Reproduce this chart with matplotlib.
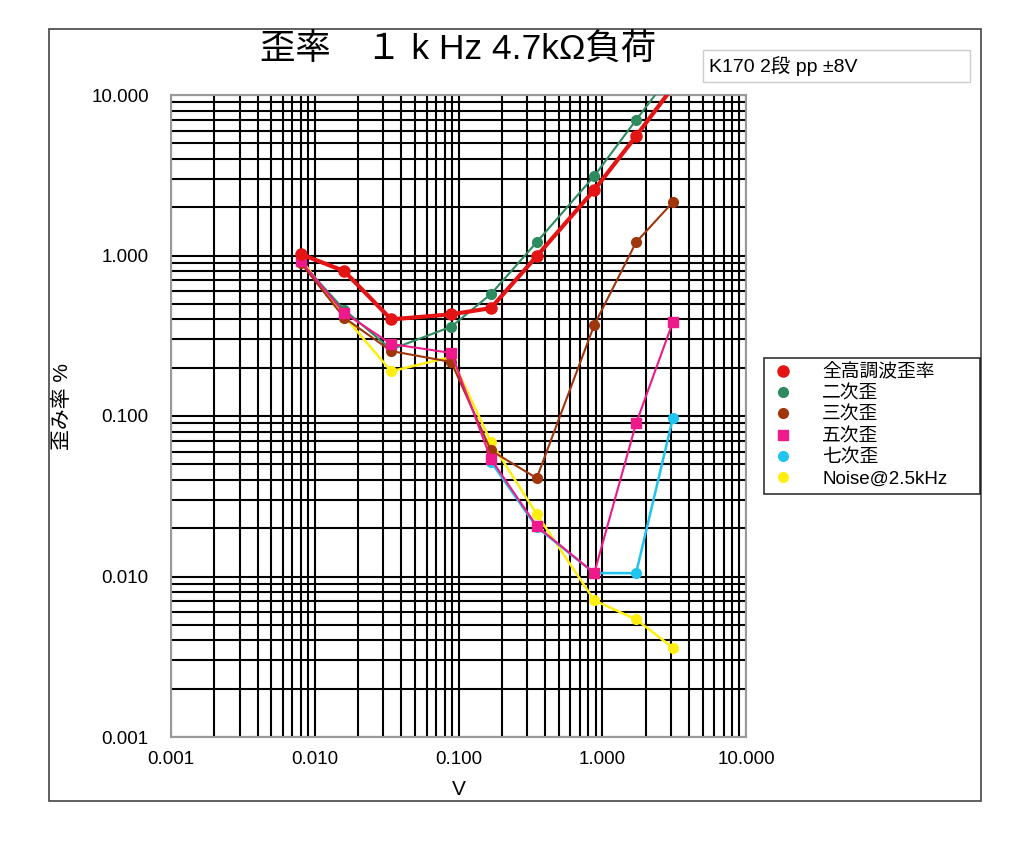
import numpy as np
import matplotlib
matplotlib.use("Agg")
import matplotlib.pyplot as plt
from matplotlib.patches import Rectangle
from matplotlib.ticker import LogLocator, FixedLocator, NullFormatter

plt.rcParams['font.family'] = ['Liberation Sans', 'Noto Sans CJK JP', 'DejaVu Sans']

# output voltage (V)
volts = [0.008, 0.016, 0.034, 0.089, 0.168, 0.35, 0.88, 1.72, 3.1]

thd = [1.02, 0.80, 0.40, 0.43, 0.47, 0.99, 2.56, 5.55, 11.2]
h2 = [0.91, 0.46, 0.26, 0.36, 0.575, 1.21, 3.13, 6.99, 14.0]
h3 = [0.90, 0.41, 0.254, 0.217, 0.061, 0.041, 0.369, 1.21, 2.15]
h5 = [0.92, 0.44, 0.281, 0.247, 0.054, 0.0206, 0.0105, 0.090, 0.385]
h7_volts = [0.168, 0.35, 0.88, 1.72, 3.1]
h7 = [0.052, 0.0203, 0.0105, 0.0105, 0.097]
noise = [0.95, 0.42, 0.19, 0.233, 0.069, 0.0245, 0.0071, 0.0054, 0.0036]

labels = ["全高調波歪率", "二次歪", "三次歪", "五次歪", "七次歪", "Noise@2.5kHz"]
ticks = [0.001, 0.01, 0.1, 1, 10]
tick_labels = ["0.001", "0.010", "0.100", "1.000", "10.000"]

fig = plt.figure(figsize=(10.24, 8.42), dpi=100)
fig.patches.append(Rectangle((49/1024, 1-801/842), 932/1024, 772/842,
                             transform=fig.transFigure, fill=False,
                             edgecolor="#444444", linewidth=1.2))
ax = fig.add_axes([171/1024, 1-737/842, 575/1024, 642/842])

ax.plot(volts, h2, color="#2e8b5f", lw=1.5, marker="o", ms=7, label=labels[1], zorder=4)
ax.plot(volts, h3, color="#a0360c", lw=1.5, marker="o", ms=7, label=labels[2], zorder=4)
ax.plot(volts, noise, color="#ffee10", lw=1.8, marker="o", ms=7, label=labels[5], zorder=3)
ax.plot(volts, h5, color="#ee1a8c", lw=1.5, marker="s", ms=7, label=labels[3], zorder=5)
ax.plot(h7_volts, h7, color="#20c4ee", lw=1.8, marker="o", ms=7, label=labels[4], zorder=4)
ax.plot(volts, thd, color="#e41414", lw=3, marker="o", ms=8, label=labels[0], zorder=6)

ax.set_xscale("log")
ax.set_yscale("log")
ax.set_xlim(0.001, 10)
ax.set_ylim(0.001, 10)
ax.xaxis.set_major_locator(FixedLocator(ticks))
ax.yaxis.set_major_locator(FixedLocator(ticks))
ax.set_xticklabels(tick_labels)
ax.set_yticklabels(tick_labels)
ax.xaxis.set_minor_locator(LogLocator(base=10, subs=np.arange(2, 10)))
ax.yaxis.set_minor_locator(LogLocator(base=10, subs=np.arange(2, 10)))
ax.xaxis.set_minor_formatter(NullFormatter())
ax.yaxis.set_minor_formatter(NullFormatter())
ax.grid(True, which="both", color="black", lw=1.5)
ax.tick_params(which="both", length=0, labelsize=13.5)
ax.tick_params(axis="x", pad=10)
ax.tick_params(axis="y", pad=16)
for s in ax.spines.values():
    s.set_color("#999999")
    s.set_linewidth(1.5)
ax.set_axisbelow(True)

ax.set_xlabel("V", fontsize=15, labelpad=9)
ax.set_ylabel("歪み率 %", fontsize=15)
ax.yaxis.set_label_coords(-0.172, 0.515)

fig.text(458/1024, 1-50/842, "歪率　１ k Hz 4.7kΩ負荷", fontsize=25.5,
         ha="center", va="center")
fig.text(709/1024, 1-66/842, "K170 2段 pp ±8V", fontsize=14, ha="left", va="center")
fig.patches.append(Rectangle((703/1024, 1-82/842), 267/1024, 32/842,
                             transform=fig.transFigure, fill=False,
                             edgecolor="#cccccc", linewidth=1))

h, l = ax.get_legend_handles_labels()
hd = dict(zip(l, h))
leg = fig.legend([hd[x] for x in labels], labels, loc="upper left",
                 bbox_to_anchor=(764/1024, 1-497/842, 216/1024, 139/842),
                 mode="expand", fontsize=13.5,
                 frameon=True, fancybox=False, edgecolor="black",
                 handlelength=1.4, handletextpad=1.4, borderaxespad=0,
                 borderpad=0.3, labelspacing=0.22)
leg.get_frame().set_linewidth(1.2)
for line in leg.get_lines():
    line.set_linestyle("")

fig.savefig("out.png", dpi=100)
